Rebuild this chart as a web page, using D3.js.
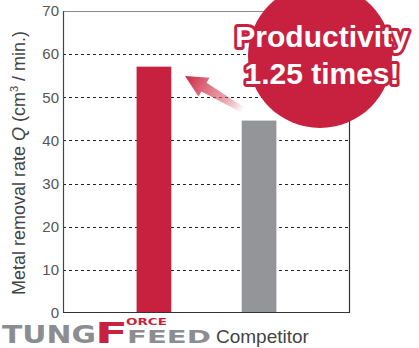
<!DOCTYPE html>
<html>
<head>
<meta charset="utf-8">
<script src="https://cdn.jsdelivr.net/npm/d3@7"></script>
<style>
  html, body { margin: 0; padding: 0; background: #fff; }
  svg { display: block; font-family: "Liberation Sans", Arial, Helvetica, sans-serif; }
</style>
</head>
<body>
<svg id="chart" width="419" height="348"></svg>
<script>
// Metal removal rate per tool
const categories = ["TungForceFeed", "Competitor"];
const values = [57.1, 44.6];
const yTicks = [0, 10, 20, 30, 40, 50, 60, 70];
const calloutLines = ["Productivity", "1.25 times!"];

const W = 419, H = 348;
const margin = { top: 11, right: 69, bottom: 35, left: 63 };
const RED = "#c8213f", GREY = "#939598";

const svg = d3.select("#chart");
const iw = W - margin.left - margin.right;
const ih = H - margin.top - margin.bottom;
const g = svg.append("g").attr("transform", `translate(${margin.left},${margin.top})`);

const x = d3.scaleBand().domain(categories).range([0, iw]).paddingInner(0.67).paddingOuter(0.7);
const y = d3.scaleLinear().domain([0, 70]).range([ih, 0]);

// dashed gridlines
g.append("g").selectAll("line").data(yTicks.filter(t => t > 0 && t < 70)).join("line")
  .attr("x1", 0).attr("x2", iw)
  .attr("y1", d => Math.round(y(d)) + 0.5).attr("y2", d => Math.round(y(d)) + 0.5)
  .attr("stroke", "#222").attr("stroke-width", 1).attr("stroke-dasharray", "3,3");

// y axis labels
const yAxis = g.append("g").call(d3.axisLeft(y).tickValues(yTicks).tickSize(0).tickPadding(4));
yAxis.select(".domain").remove();
yAxis.selectAll("text").attr("fill", "#555").style("font-size", "15px")
  .style("font-family", "'Liberation Sans', Arial, sans-serif");

// bars
g.append("g").selectAll("rect").data(values).join("rect")
  .attr("x", (d, i) => x(categories[i]))
  .attr("width", x.bandwidth())
  .attr("y", d => y(d))
  .attr("height", d => ih - y(d))
  .attr("fill", (d, i) => i === 0 ? RED : GREY);

// frame
g.append("line").attr("x1", 0).attr("x2", iw).attr("y1", 0.5).attr("y2", 0.5).attr("stroke", "#8a8a8a").attr("stroke-width", 1.2);
g.append("line").attr("x1", 0.5).attr("x2", 0.5).attr("y1", 0).attr("y2", ih).attr("stroke", "#444").attr("stroke-width", 1.2);
g.append("line").attr("x1", iw - 0.5).attr("x2", iw - 0.5).attr("y1", 0).attr("y2", ih).attr("stroke", "#333").attr("stroke-width", 1.2);
g.append("line").attr("x1", 0).attr("x2", iw).attr("y1", ih - 0.5).attr("y2", ih - 0.5).attr("stroke", "#333").attr("stroke-width", 1.2);

// y axis title
const title = svg.append("text")
  .attr("transform", `translate(25,${margin.top + ih / 2 + 1}) rotate(-90)`)
  .attr("text-anchor", "middle").attr("fill", "#444").style("font-size", "18px");
title.append("tspan").text("Metal removal rate ");
title.append("tspan").attr("font-style", "italic").text("Q");
title.append("tspan").text(" (cm");
title.append("tspan").attr("dy", -7).style("font-size", "11px").text("3");
title.append("tspan").attr("dy", 7).text(" / min.)");

// gradient arrow from competitor bar towards the TungForceFeed bar
const defs = svg.append("defs");
const grad = defs.append("linearGradient").attr("id", "arrowGrad")
  .attr("gradientUnits", "userSpaceOnUse")
  .attr("x1", 243).attr("y1", 110).attr("x2", 186).attr("y2", 76);
grad.append("stop").attr("offset", 0).attr("stop-color", RED).attr("stop-opacity", 0);
grad.append("stop").attr("offset", 0.35).attr("stop-color", "#d9616f").attr("stop-opacity", 0.6);
grad.append("stop").attr("offset", 1).attr("stop-color", "#cc2a45").attr("stop-opacity", 1);

{
  const tail = [243, 110], tip = [185, 76];
  const dx = tip[0] - tail[0], dy = tip[1] - tail[1];
  const len = Math.hypot(dx, dy), ux = dx / len, uy = dy / len;
  const px = -uy, py = ux;
  const headLen = 22, shaftW = 5, headW = 11;
  const bx = tip[0] - ux * headLen, by = tip[1] - uy * headLen;
  const pts = [
    [tail[0] + px * shaftW * 0.6, tail[1] + py * shaftW * 0.6],
    [bx + px * shaftW, by + py * shaftW],
    [bx + px * headW, by + py * headW],
    tip,
    [bx - px * headW, by - py * headW],
    [bx - px * shaftW, by - py * shaftW],
    [tail[0] - px * shaftW * 0.6, tail[1] - py * shaftW * 0.6]
  ];
  svg.append("path").attr("d", d3.line()(pts) + "Z").attr("fill", "url(#arrowGrad)");
}

// callout badge
svg.append("circle").attr("cx", 320).attr("cy", 56).attr("r", 72).attr("fill", RED);
const callout = svg.append("g").attr("text-anchor", "middle")
  .style("font-size", "30px").style("font-weight", "bold");
calloutLines.forEach((t, i) => {
  callout.append("text").attr("x", 322).attr("y", 47 + i * 37)
    .attr("fill", "#fff").attr("stroke", RED).attr("stroke-width", 6)
    .attr("stroke-linejoin", "round").attr("paint-order", "stroke").text(t);
});

// category label
svg.append("text").attr("x", 216).attr("y", 343)
  .attr("fill", "#444").style("font-size", "19px").text(categories[1]);

// TungForceFeed wordmark
const logo = svg.append("g").style("font-family", "'DejaVu Sans', sans-serif").style("font-weight", "bold");
logo.append("text").attr("x", 2).attr("y", 343).attr("textLength", 94).attr("lengthAdjust", "spacingAndGlyphs")
  .attr("fill", "#8c8d90").style("font-size", "25px").text("TUNG");
logo.append("text").attr("x", 95).attr("y", 343).attr("textLength", 33).attr("lengthAdjust", "spacingAndGlyphs")
  .attr("fill", RED).style("font-size", "28px").text("F");
logo.append("text").attr("x", 126).attr("y", 325).attr("textLength", 41).attr("lengthAdjust", "spacingAndGlyphs")
  .attr("fill", RED).style("font-size", "9.5px").text("ORCE");
logo.append("text").attr("x", 127).attr("y", 343).attr("textLength", 84).attr("lengthAdjust", "spacingAndGlyphs")
  .attr("fill", "#8c8d90").style("font-size", "18px").text("FEED");
</script>
</body>
</html>
